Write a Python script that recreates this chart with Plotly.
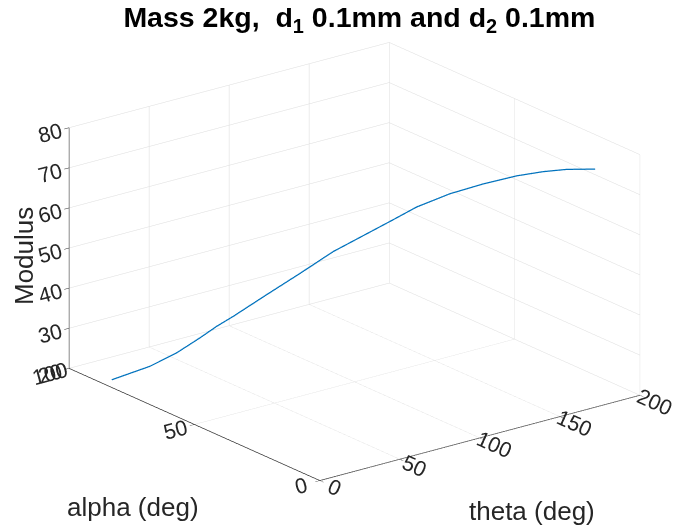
import plotly.graph_objects as go
import math

theta = [0, 14.3, 24.2, 32.9, 39.1, 45.3, 57.7, 70.1, 82.5, 88.7, 104.2, 113.5, 125.9, 138.3, 150.8, 160.7, 169.4, 180]
alpha = [83, 76.8, 72.5, 68.7, 66.1, 63.4, 58.0, 52.6, 47.3, 44.6, 37.8, 33.8, 28.4, 23.1, 17.7, 13.4, 9.6, 5.1]
modulus = [21.9, 25.5, 29.0, 32.9, 35.8, 38.4, 44.0, 49.5, 55.1, 57.4, 63.2, 66.7, 70.2, 72.8, 75.0, 76.2, 76.9, 77.1]

x_ticks = [0, 50, 100, 150, 200]
y_ticks = [0, 50, 100]
z_ticks = [20, 30, 40, 50, 60, 70, 80]

fig = go.Figure()
fig.add_trace(go.Scatter3d(x=theta, y=alpha, z=modulus, mode="lines",
                           line=dict(color="#0072BD", width=2.5), hoverinfo="skip",
                           showlegend=False))

tick_font = dict(family="Liberation Sans, Arial, sans-serif", size=16, color="#262626")

def ax(vals, rng):
    return dict(range=rng, tickvals=vals, ticktext=[str(v) for v in vals],
                showbackground=False, showgrid=True, gridcolor="#dcdcdc", gridwidth=1,
                zeroline=False, showline=True, linecolor="#262626", linewidth=1.5,
                ticks="outside", ticklen=6, tickcolor="#262626", tickfont=tick_font,
                title=dict(text=""), showspikes=False, autorange=False)

e = math.radians(20.2)
b = math.radians(232.35)
d = 1.9
eye = dict(x=d*math.cos(e)*math.cos(b), y=d*math.cos(e)*math.sin(b), z=d*math.sin(e))
s = 1.54 * 1.04

fig.update_layout(
    width=685, height=526,
    paper_bgcolor="white",
    margin=dict(l=0, r=0, t=0, b=0),
    title=dict(text="<b>Mass 2kg,  d<sub>1</sub> 0.1mm and d<sub>2</sub> 0.1mm</b>",
               x=0.513, xanchor="center", y=0.982, yanchor="middle",
               font=dict(family="Liberation Sans, Arial, sans-serif", size=28.5, color="black")),
    scene=dict(
        xaxis=ax(x_ticks, [0, 200]),
        yaxis=ax(y_ticks, [0, 100]),
        zaxis=ax(z_ticks, [20, 80]),
        aspectmode="manual",
        aspectratio=dict(x=1*s, y=1.015*s, z=0.634*s),
        camera=dict(eye=eye, center=dict(x=0, y=0, z=0), up=dict(x=0, y=0, z=1),
                    projection=dict(type="orthographic")),
        domain=dict(x=[0.012, 1], y=[0.038, 0.998]),
    ),
    annotations=[
        dict(text="Modulus", x=16, y=248, showarrow=False,
             textangle=-90, font=dict(family="Liberation Sans, Arial, sans-serif", size=26, color="#262626")),
        dict(text="alpha (deg)", x=125, y=499, showarrow=False,
             font=dict(family="Liberation Sans, Arial, sans-serif", size=26, color="#262626")),
        dict(text="theta (deg)", x=524, y=503, showarrow=False,
             font=dict(family="Liberation Sans, Arial, sans-serif", size=26, color="#262626")),
    ],
)
for a in fig.layout.annotations:
    a.xref = "paper"; a.yref = "paper"
    a.x = a.x / 685
    a.y = 1 - a.y / 526
    a.xanchor = "center"; a.yanchor = "middle"

fig.write_html("out.html")
